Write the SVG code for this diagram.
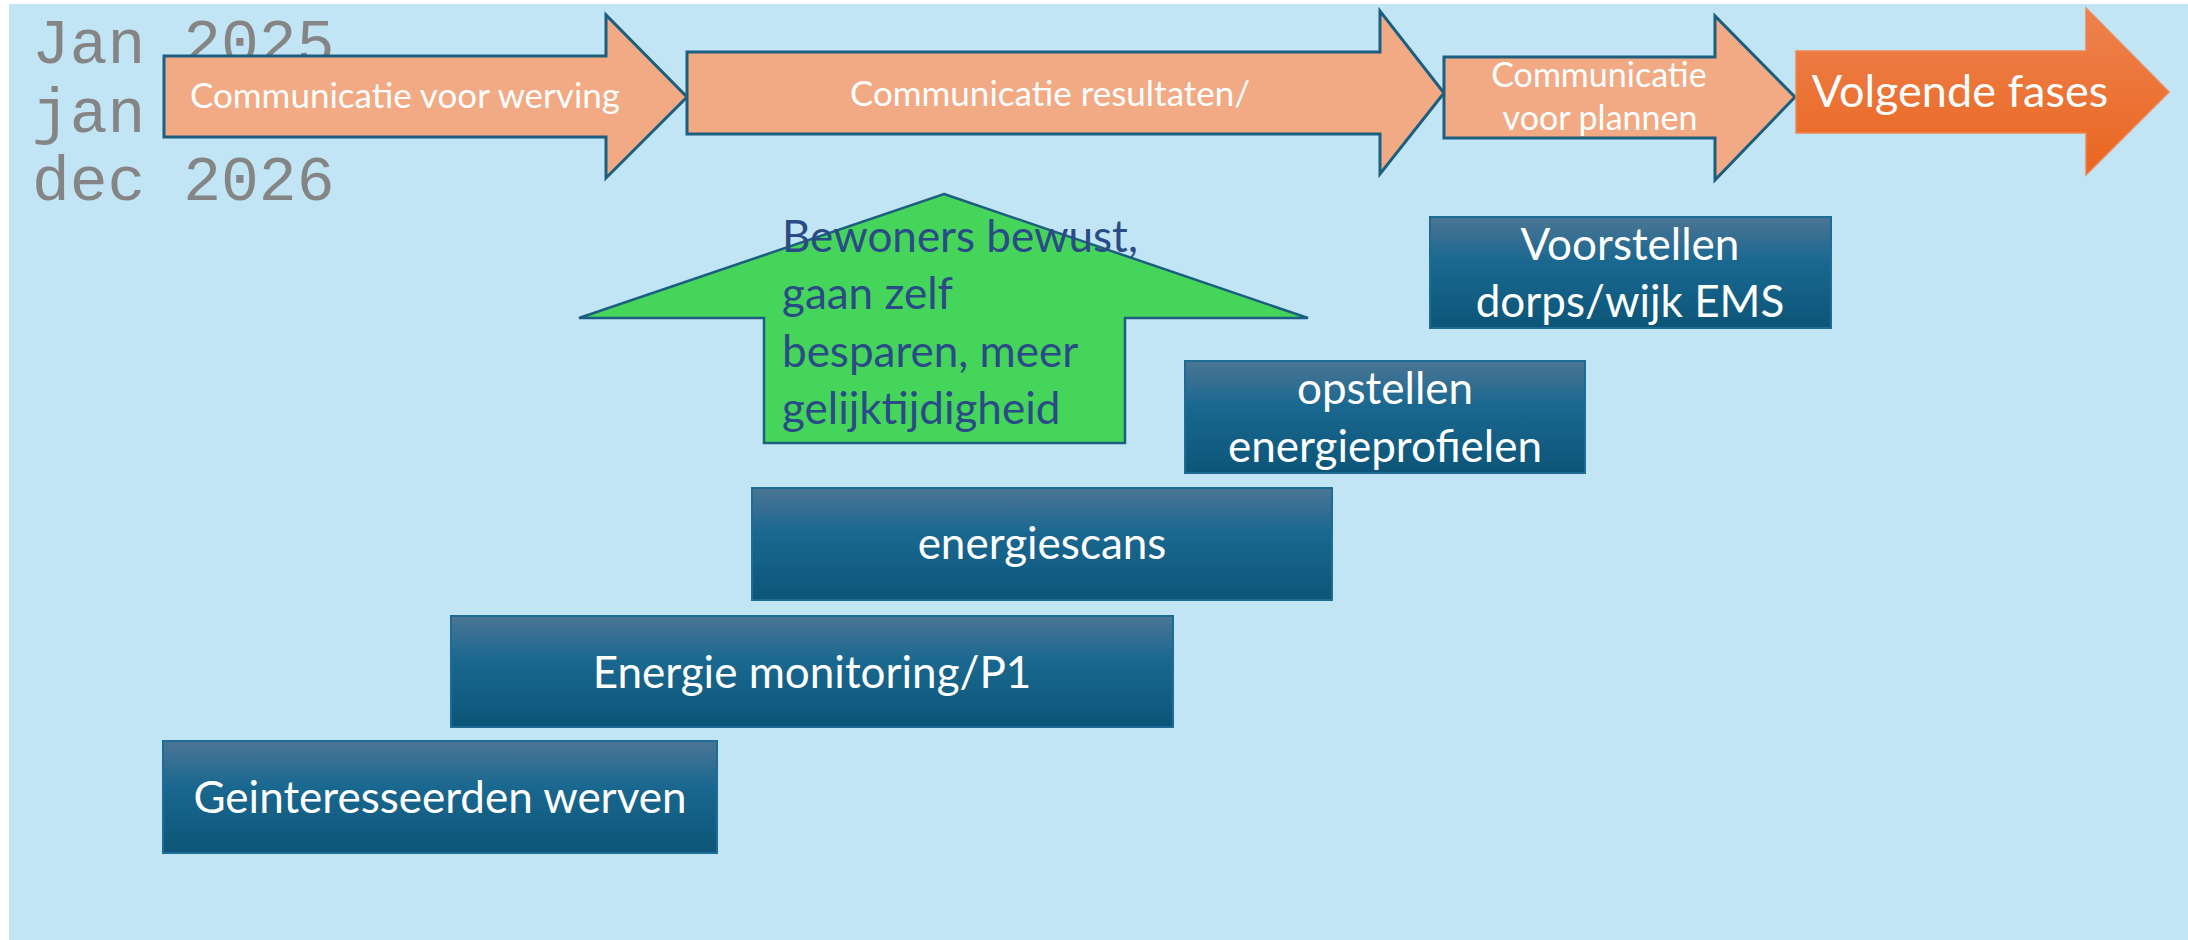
<svg xmlns="http://www.w3.org/2000/svg" width="2188" height="940" viewBox="0 0 2188 940">
<defs>
<linearGradient id="boxGrad" x1="0" y1="0" x2="0" y2="1">
<stop offset="0" stop-color="#4C7594"/>
<stop offset="0.4" stop-color="#1A6890"/>
<stop offset="1" stop-color="#0C5578"/>
</linearGradient>
<linearGradient id="nextGrad" x1="0" y1="0" x2="0" y2="1">
<stop offset="0" stop-color="#EE824F"/>
<stop offset="1" stop-color="#E9661F"/>
</linearGradient>
<style>
.arrow{fill:#F2AA84;stroke:#1C5E80;stroke-width:3;stroke-linejoin:miter}
.box{fill:url(#boxGrad);stroke:#1E6C94;stroke-width:2}
.wt{font-family:Lato,"Open Sans",sans-serif;fill:#FFFFFF;text-anchor:middle}
.mono{font-family:"Liberation Mono",monospace;font-size:63px;fill:#858585}
.green{font-family:Lato,"Open Sans",sans-serif;font-size:44px;fill:#2B4B86}
</style>
</defs>
<rect x="9" y="4" width="2179" height="936" fill="#C2E5F5"/>
<g id="dates">
<text class="mono" x="32" y="63">Jan 2025</text>
<text class="mono" x="32" y="132">jan</text>
<text class="mono" x="32" y="200">dec 2026</text>
</g>
<g id="connectors"></g>
<g id="arrow-werving">
<polygon class="arrow" points="164,56 606,56 606,15 687,97 606,178 606,137 164,137"/>
<text class="wt" x="405" y="108" font-size="35">Communicatie voor werving</text>
</g>
<g id="arrow-resultaten">
<polygon class="arrow" points="687,52 1380,52 1380,11 1444,93 1380,174 1380,134 687,134"/>
<text class="wt" x="1050" y="106" font-size="35">Communicatie resultaten/</text>
</g>
<g id="arrow-plannen">
<polygon class="arrow" points="1444,57 1715,57 1715,16 1795,97 1715,180 1715,138 1444,138"/>
<text class="wt" x="1599" y="87" font-size="34">Communicatie</text>
<text class="wt" x="1600" y="130" font-size="34">voor plannen</text>
</g>
<g id="arrow-volgende">
<polygon points="1796,51 2086,51 2086,8 2169,92 2086,175 2086,133 1796,133" fill="url(#nextGrad)" stroke="#EF8553" stroke-width="1.5"/>
<text class="wt" x="1960" y="107" font-size="45">Volgende fases</text>
</g>
<g id="up-arrow">
<polygon points="944,194 1308,318 1125,318 1125,443 764,443 764,318 579,318" fill="#45D55B" stroke="#1C5E80" stroke-width="2.5"/>
<text class="green" x="782" y="252">Bewoners bewust,</text>
<text class="green" x="782" y="309">gaan zelf</text>
<text class="green" x="782" y="367">besparen, meer</text>
<text class="green" x="782" y="424">gelijktijdigheid</text>
</g>
<g id="box-voorstellen">
<rect class="box" x="1430" y="217" width="401" height="111"/>
<text class="wt" x="1630" y="260" font-size="44">Voorstellen</text>
<text class="wt" x="1630" y="317" font-size="44">dorps/wijk EMS</text>
</g>
<g id="box-opstellen">
<rect class="box" x="1185" y="361" width="400" height="112"/>
<text class="wt" x="1385" y="404" font-size="44">opstellen</text>
<text class="wt" x="1385" y="462" font-size="44">energieprofielen</text>
</g>
<g id="box-energiescans">
<rect class="box" x="752" y="488" width="580" height="112"/>
<text class="wt" x="1042" y="559" font-size="44">energiescans</text>
</g>
<g id="box-monitoring">
<rect class="box" x="451" y="616" width="722" height="111"/>
<text class="wt" x="812" y="688" font-size="44">Energie monitoring/P1</text>
</g>
<g id="box-werven">
<rect class="box" x="163" y="741" width="554" height="112"/>
<text class="wt" x="440" y="813" font-size="44">Geinteresseerden werven</text>
</g>
</svg>
